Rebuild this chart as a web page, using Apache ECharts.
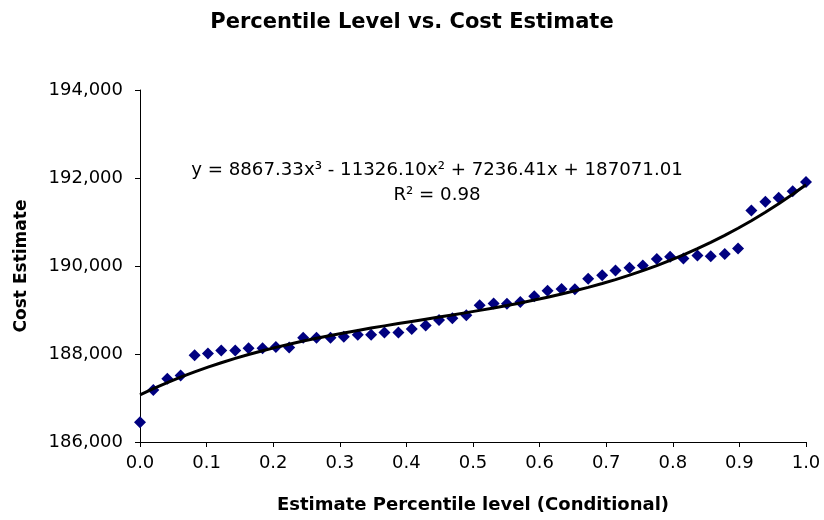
<!DOCTYPE html>
<html>
<head>
<meta charset="utf-8">
<title>Percentile Level vs. Cost Estimate</title>
<script src="https://cdn.jsdelivr.net/npm/echarts@6/dist/echarts.min.js"></script>
<style>
  html, body { margin: 0; padding: 0; background: #ffffff; }
  #chart { width: 824px; height: 520px; }
</style>
</head>
<body>
<div id="chart"></div>
<script>
// Estimate percentile level (conditional) for each simulated cost estimate
const percentileLevels = [
  0.000, 0.020, 0.041, 0.061, 0.082, 0.102, 0.122, 0.143, 0.163, 0.184,
  0.204, 0.224, 0.245, 0.265, 0.286, 0.306, 0.327, 0.347, 0.367, 0.388,
  0.408, 0.429, 0.449, 0.469, 0.490, 0.510, 0.531, 0.551, 0.571, 0.592,
  0.612, 0.633, 0.653, 0.673, 0.694, 0.714, 0.735, 0.755, 0.776, 0.796,
  0.816, 0.837, 0.857, 0.878, 0.898, 0.918, 0.939, 0.959, 0.980, 1.000
];

// Cost estimate at each percentile level
const costEstimates = [
  186450, 187180, 187440, 187510, 187970, 188010, 188080, 188080, 188130, 188130,
  188160, 188150, 188370, 188370, 188370, 188390, 188440, 188440, 188490, 188490,
  188570, 188650, 188770, 188810, 188880, 189110, 189150, 189140, 189180, 189310,
  189440, 189480, 189470, 189710, 189790, 189900, 189960, 190010, 190160, 190210,
  190170, 190240, 190220, 190270, 190400, 191260, 191460, 191550, 191700, 191910
];

// Cubic trendline coefficients, highest power first: a*x^3 + b*x^2 + c*x + d
const trendCoefficients = [8867.33, -11326.10, 7236.41, 187071.01];
const trendR2 = 0.98;

// Axis tick settings
const xTicks = { min: 0, max: 1, interval: 0.1 };
const yTicks = { min: 186000, max: 194000, interval: 2000 };

const FONT = 'DejaVu Sans';

function trendValue(x) {
  const [a, b, c, d] = trendCoefficients;
  return ((a * x + b) * x + c) * x + d;
}

const scatterData = percentileLevels.map((x, i) => [x, costEstimates[i]]);
const trendData = percentileLevels.map(x => [x, trendValue(x)]);

function fmtCoef(v) { return Math.abs(v).toFixed(2); }
const [ca, cb, cc, cd] = trendCoefficients;
const equationText =
  'y = ' + fmtCoef(ca) + 'x\u00B3 ' + (cb < 0 ? '- ' : '+ ') + fmtCoef(cb) + 'x\u00B2 ' +
  (cc < 0 ? '- ' : '+ ') + fmtCoef(cc) + 'x ' + (cd < 0 ? '- ' : '+ ') + fmtCoef(cd);
const r2Text = 'R\u00B2 = ' + trendR2.toFixed(2);

const chart = echarts.init(document.getElementById('chart'), null, { renderer: 'canvas' });

chart.setOption({
  backgroundColor: '#ffffff',
  animation: false,
  textStyle: { fontFamily: FONT, color: '#000000' },
  title: {
    text: 'Percentile Level vs. Cost Estimate',
    left: 'center',
    top: 7,
    textStyle: { fontFamily: FONT, fontSize: 21, fontWeight: 'bold', color: '#000000' }
  },
  grid: { left: 140, right: 18, top: 90, bottom: 78, containLabel: false },
  xAxis: {
    type: 'value',
    min: xTicks.min,
    max: xTicks.max,
    interval: xTicks.interval,
    name: 'Estimate Percentile level (Conditional)',
    nameLocation: 'middle',
    nameGap: 54,
    nameTextStyle: { fontFamily: FONT, fontSize: 18, fontWeight: 'bold', color: '#000000' },
    axisLine: { show: true, onZero: false, lineStyle: { color: '#000000', width: 1 } },
    axisTick: { show: true, inside: false, length: 5, lineStyle: { color: '#000000' } },
    axisLabel: {
      margin: 12,
      fontFamily: FONT,
      fontSize: 18,
      color: '#000000',
      formatter: v => v.toFixed(1)
    },
    splitLine: { show: false }
  },
  yAxis: {
    type: 'value',
    min: yTicks.min,
    max: yTicks.max,
    interval: yTicks.interval,
    name: 'Cost Estimate',
    nameLocation: 'middle',
    nameGap: 110,
    nameRotate: 90,
    nameTextStyle: { fontFamily: FONT, fontSize: 17, fontWeight: 'bold', color: '#000000' },
    axisLine: { show: true, onZero: false, lineStyle: { color: '#000000', width: 1 } },
    axisTick: { show: true, inside: false, length: 5, lineStyle: { color: '#000000' } },
    axisLabel: {
      margin: 17,
      fontFamily: FONT,
      fontSize: 18,
      color: '#000000',
      formatter: v => v.toLocaleString('en-US')
    },
    splitLine: { show: false }
  },
  graphic: [
    {
      type: 'text',
      x: 437,
      y: 170,
      style: {
        text: equationText,
        fontFamily: FONT,
        fontSize: 18.2,
        fill: '#000000',
        align: 'center',
        verticalAlign: 'middle'
      }
    },
    {
      type: 'text',
      x: 437,
      y: 195,
      style: {
        text: r2Text,
        fontFamily: FONT,
        fontSize: 18.2,
        fill: '#000000',
        align: 'center',
        verticalAlign: 'middle'
      }
    }
  ],
  series: [
    {
      name: 'Cost Estimate',
      type: 'scatter',
      data: scatterData,
      symbol: 'diamond',
      symbolSize: [12, 12],
      itemStyle: { color: '#000080', opacity: 1 },
      z: 2
    },
    {
      name: 'Poly. (Cost Estimate)',
      type: 'line',
      data: trendData,
      showSymbol: false,
      symbol: 'none',
      smooth: false,
      lineStyle: { color: '#000000', width: 3 },
      z: 3
    }
  ]
});
</script>
</body>
</html>
